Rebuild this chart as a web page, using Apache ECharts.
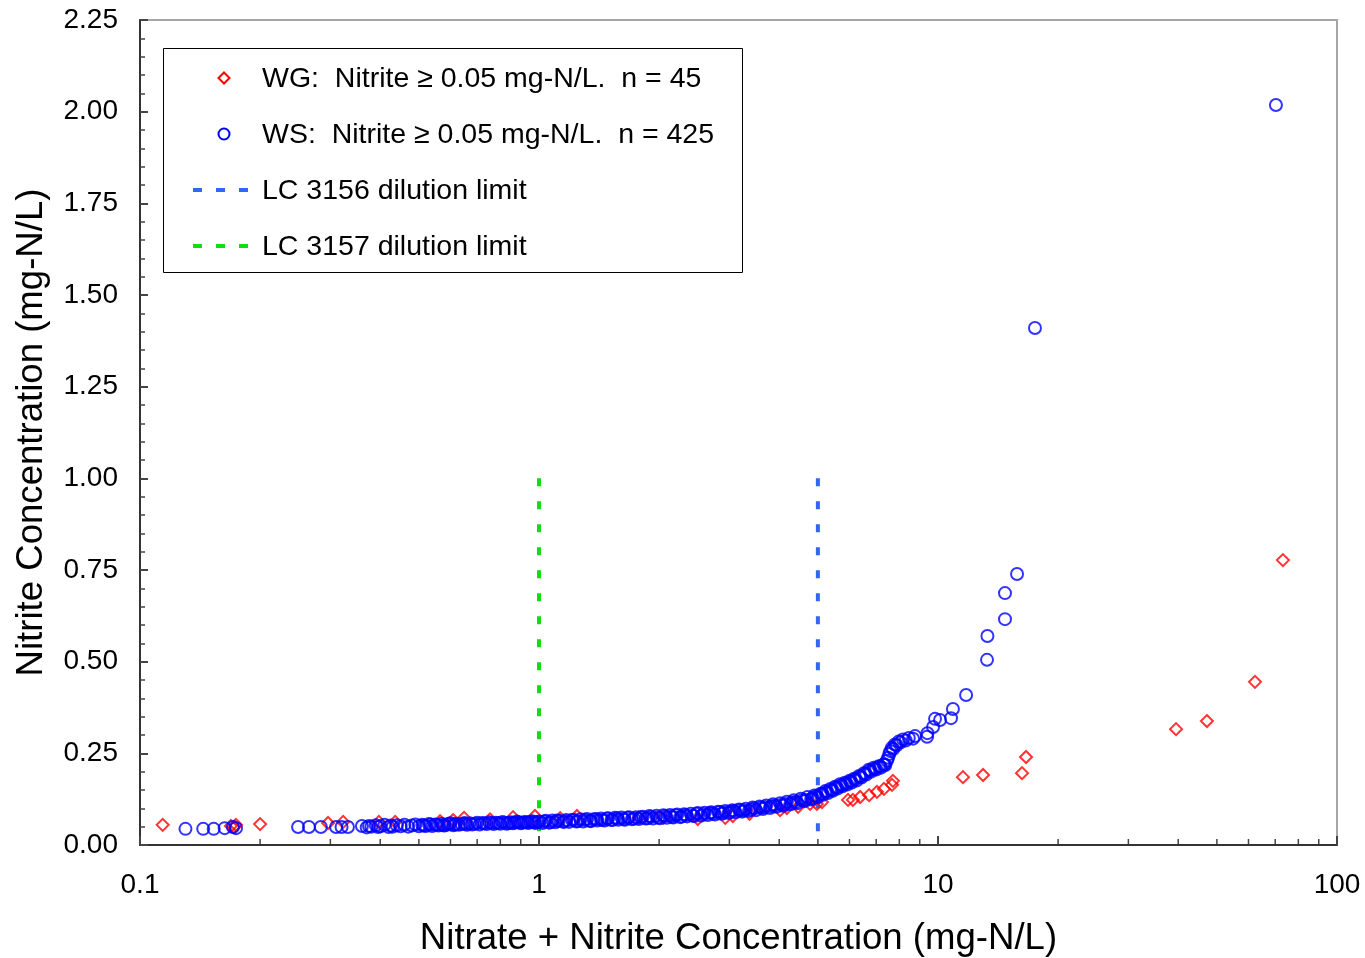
<!DOCTYPE html>
<html>
<head>
<meta charset="utf-8">
<script src="https://cdn.jsdelivr.net/npm/echarts@6/dist/echarts.min.js"></script>
<style>html,body{margin:0;padding:0;background:#fff;}#chart{width:1365px;height:958px;}</style>
</head>
<body>
<div id="chart"></div>
<script>
// ---- data ----
const wgName = 'WG:  Nitrite \u2265 0.05 mg-N/L.  n = 45';
const wsName = 'WS:  Nitrite \u2265 0.05 mg-N/L.  n = 425';
const lc3156Name = 'LC 3156 dilution limit';
const lc3157Name = 'LC 3157 dilution limit';

const wgX = [0.114,0.169,0.172,0.174,0.200,0.296,0.323,0.397,0.436,0.565,0.609,0.649,0.754,0.861,0.977,1.13,1.245,1.78,2.05,2.50,2.93,3.06,3.37,4.02,4.18,4.46,4.78,4.97,5.12,5.95,6.12,6.38,6.72,7.03,7.32,7.67,7.71,11.55,12.97,16.24,16.62,39.5,47.2,62.3,73.2];
const wgY = [0.055,0.052,0.049,0.055,0.057,0.060,0.063,0.063,0.063,0.065,0.068,0.074,0.070,0.076,0.079,0.073,0.079,0.075,0.074,0.071,0.074,0.079,0.085,0.095,0.101,0.104,0.112,0.112,0.117,0.123,0.123,0.131,0.136,0.145,0.153,0.164,0.175,0.185,0.191,0.196,0.240,0.316,0.338,0.445,0.777];

const wsLow = [[0.130,0.044],[0.144,0.044],[0.153,0.044],[0.163,0.046],[0.171,0.049],[0.174,0.046],[0.249,0.049],[0.265,0.049],[0.284,0.049],[0.310,0.049],[0.320,0.049],[0.332,0.049],[0.360,0.052]];
const wsMid1 = [[0.37,0.048],[0.375,0.052],[0.38,0.050],[0.39,0.054],[0.395,0.049],[0.40,0.051],[0.41,0.055],[0.42,0.049],[0.425,0.053],[0.43,0.050],[0.44,0.054],[0.45,0.051],[0.46,0.055],[0.47,0.050],[0.48,0.053],[0.49,0.056],[0.50,0.051],[0.51,0.055],[0.52,0.052],[0.53,0.057],[0.54,0.052],[0.55,0.056],[0.56,0.053],[0.57,0.058],[0.58,0.053],[0.59,0.056],[0.60,0.059],[0.61,0.054],[0.62,0.058],[0.63,0.055],[0.65,0.060],[0.66,0.055],[0.67,0.059],[0.68,0.056],[0.70,0.061],[0.71,0.056],[0.72,0.060],[0.74,0.057],[0.75,0.062],[0.77,0.057],[0.78,0.061],[0.80,0.058],[0.81,0.063],[0.83,0.058],[0.85,0.062],[0.86,0.059],[0.88,0.064],[0.90,0.059],[0.92,0.063],[0.94,0.060],[0.96,0.065],[0.98,0.060],[1.00,0.064]];
const wsMid1b = [[0.515,0.053],[0.535,0.056],[0.555,0.055],[0.575,0.054],[0.595,0.058],[0.615,0.056],[0.64,0.057],[0.655,0.058],[0.69,0.058],[0.73,0.059],[0.76,0.060],[0.79,0.060],[0.82,0.061],[0.84,0.060],[0.87,0.061],[0.89,0.062],[0.91,0.061],[0.93,0.062],[0.95,0.063],[0.97,0.062],[0.99,0.063]];
const wsMid2 = [[1.02,0.060],[1.04,0.066],[1.06,0.061],[1.08,0.067],[1.10,0.062],[1.12,0.066],[1.15,0.063],[1.17,0.068],[1.19,0.063],[1.22,0.069],[1.24,0.064],[1.27,0.070],[1.29,0.064],[1.32,0.071],[1.35,0.065],[1.37,0.070],[1.40,0.067],[1.43,0.072],[1.46,0.067],[1.49,0.073],[1.52,0.068],[1.55,0.074],[1.58,0.069],[1.61,0.075],[1.64,0.069],[1.68,0.076],[1.71,0.070],[1.75,0.076],[1.78,0.071],[1.82,0.077],[1.85,0.072],[1.89,0.079],[1.93,0.072],[1.97,0.080],[2.01,0.073],[2.05,0.081],[2.09,0.074],[2.13,0.082],[2.17,0.075],[2.22,0.083],[2.26,0.076],[2.31,0.084],[2.35,0.078],[2.40,0.085],[2.45,0.079],[2.50,0.087],[2.55,0.080],[2.60,0.088],[2.65,0.082],[2.70,0.089],[2.76,0.083],[2.81,0.091],[2.87,0.085],[2.93,0.093],[2.99,0.087],[3.05,0.095],[3.11,0.089],[3.17,0.097],[3.23,0.091],[3.30,0.099],[3.36,0.093],[3.43,0.102],[3.50,0.095],[3.57,0.105],[3.64,0.098],[3.71,0.108],[3.79,0.101],[3.86,0.111],[3.94,0.104],[4.02,0.114],[4.10,0.107],[4.18,0.118],[4.27,0.111],[4.35,0.122],[4.44,0.114],[4.53,0.126],[4.62,0.119],[4.71,0.131],[4.81,0.124],[4.90,0.135],[5.00,0.130]];
const wsMid2b = [[1.03,0.064],[1.07,0.062],[1.11,0.067],[1.16,0.064],[1.21,0.068],[1.25,0.065],[1.30,0.069],[1.34,0.066],[1.39,0.071],[1.44,0.068],[1.48,0.072],[1.53,0.069],[1.57,0.073],[1.63,0.071],[1.67,0.074],[1.73,0.072],[1.80,0.076],[1.87,0.073],[1.91,0.077],[1.99,0.075],[2.07,0.079],[2.15,0.077],[2.20,0.081],[2.28,0.078],[2.33,0.082],[2.43,0.080],[2.48,0.085],[2.58,0.084],[2.68,0.087],[2.73,0.086],[2.84,0.090],[2.90,0.088],[3.02,0.091],[3.08,0.093],[3.20,0.095],[3.27,0.094],[3.40,0.097],[3.47,0.100],[3.60,0.102],[3.68,0.103],[3.82,0.106],[3.90,0.107],[4.06,0.110],[4.14,0.112],[4.31,0.116],[4.40,0.117],[4.57,0.122],[4.66,0.123],[4.85,0.128],[4.95,0.133],[5.12,0.140],[5.26,0.145],[5.41,0.150],[5.56,0.157],[5.72,0.163],[5.88,0.168],[6.04,0.173],[6.20,0.179],[6.38,0.186],[6.56,0.194],[6.75,0.203],[6.95,0.208],[7.15,0.214],[7.34,0.219]];
const wsMid3 = [[5.08,0.140],[5.15,0.137],[5.22,0.147],[5.30,0.142],[5.37,0.153],[5.45,0.148],[5.52,0.159],[5.60,0.154],[5.68,0.166],[5.76,0.160],[5.84,0.170],[5.92,0.165],[6.00,0.175],[6.08,0.170],[6.16,0.181],[6.25,0.176],[6.34,0.188],[6.43,0.184],[6.52,0.196],[6.61,0.192],[6.70,0.205],[6.80,0.200],[6.90,0.211],[7.00,0.206],[7.10,0.215],[7.20,0.211],[7.30,0.220],[7.38,0.218],[7.45,0.230],[7.50,0.238],[7.55,0.248],[7.60,0.256],[7.66,0.265],[7.72,0.262],[7.80,0.274],[7.88,0.272],[7.97,0.282],[8.06,0.280],[8.17,0.288],[8.30,0.285],[8.45,0.292],[8.66,0.290],[8.76,0.297]];
const wsHigh = [[9.39,0.295],[9.41,0.305],[9.72,0.322],[9.83,0.344],[10.12,0.341],[10.78,0.346],[10.90,0.371],[11.76,0.409],[13.27,0.505],[13.30,0.570],[14.72,0.616],[14.72,0.687],[15.78,0.739],[17.5,1.410],[70.3,2.018]];

const lc3156X = 5;   // mg-N/L
const lc3157X = 1;   // mg-N/L
const limitYRange = [1.0, 0];

const xMinorTicks = [0.2,0.3,0.4,0.5,0.6,0.7,0.8,0.9,2,3,4,5,6,7,8,9,20,30,40,50,60,70,80,90];
const xTickLabels = {0.1:'0.1', 1:'1', 10:'10', 100:'100'};

// ---- colours ----
const WG_COLOR = '#ff0000', WS_COLOR = '#0000ff', LC3156_COLOR = '#3366f5', LC3157_COLOR = '#11dd11';

// ---- chart ----
const FONT = 'Liberation Sans, Arial, sans-serif';
const chart = echarts.init(document.getElementById('chart'), null, {renderer:'canvas'});
const wgData = wgX.map((x,i)=>[x, wgY[i]]);
const wsData = [].concat(wsLow, wsMid1, wsMid1b, wsMid2, wsMid2b, wsMid3, wsHigh);

// legend (drawn as graphic elements for exact placement)
const legendTextStyle = {font:'28.5px ' + FONT, fill:'#000', textVerticalAlign:'middle', verticalAlign:'middle'};
const legendRows = [78, 134, 190, 246];
const textDy = 1;
const legendGraphic = [
  {type:'rect', left:163, top:48, z:50, shape:{width:579, height:224}, style:{fill:'#fff', stroke:'#000', lineWidth:1}},
  {type:'polygon', z:51, shape:{points:[[224,legendRows[0]-5.5],[229.5,legendRows[0]],[224,legendRows[0]+5.5],[218.5,legendRows[0]]]}, style:{fill:'none', stroke:WG_COLOR, lineWidth:2}},
  {type:'circle', z:51, shape:{cx:224, cy:legendRows[1], r:5.5}, style:{fill:'none', stroke:WS_COLOR, lineWidth:2}},
  {type:'line', z:51, shape:{x1:193, y1:legendRows[2], x2:250, y2:legendRows[2]}, style:{stroke:LC3156_COLOR, lineWidth:4, lineDash:[9,14]}},
  {type:'line', z:51, shape:{x1:193, y1:legendRows[3], x2:250, y2:legendRows[3]}, style:{stroke:LC3157_COLOR, lineWidth:4, lineDash:[9,14]}},
  {type:'text', z:51, x:262, y:legendRows[0]+textDy, style:Object.assign({text:wgName}, legendTextStyle)},
  {type:'text', z:51, x:262, y:legendRows[1]+textDy, style:Object.assign({text:wsName}, legendTextStyle)},
  {type:'text', z:51, x:262, y:legendRows[2]+textDy, style:Object.assign({text:lc3156Name}, legendTextStyle)},
  {type:'text', z:51, x:262, y:legendRows[3]+textDy, style:Object.assign({text:lc3157Name}, legendTextStyle)}
];

chart.setOption({
  backgroundColor: '#ffffff',
  animation: false,
  grid: {left:140, right:28, top:20, bottom:113, containLabel:false, outerBoundsMode:'none', show:true, borderColor:'#a6a6a6', borderWidth:2, backgroundColor:'transparent'},
  xAxis: {
    type:'log', logBase:10, min:0.1, max:100,
    name:'Nitrate + Nitrite Concentration (mg-N/L)', nameLocation:'middle', nameGap:75,
    nameTextStyle:{fontFamily:FONT, fontSize:36.6, color:'#000'},
    axisLine:{show:true, onZero:false, lineStyle:{color:'#333', width:2}},
    axisTick:{show:true, inside:true, length:9, lineStyle:{color:'#444', width:2}},
    minorTick:{show:false},
    axisLabel:{fontFamily:FONT, fontSize:28, color:'#000', margin:26, formatter:v => xTickLabels[v] !== undefined ? xTickLabels[v] : String(v)},
    splitLine:{show:false}
  },
  yAxis: {
    type:'value', min:0, max:2.25, interval:0.25,
    name:'Nitrite Concentration (mg-N/L)', nameLocation:'middle', nameGap:90,
    nameTextStyle:{fontFamily:FONT, fontSize:36.6, color:'#000'},
    axisLine:{show:true, onZero:false, lineStyle:{color:'#333', width:2}},
    axisTick:{show:true, inside:true, length:8, lineStyle:{color:'#444', width:2}},
    minorTick:{show:true, splitNumber:5, length:5, lineStyle:{color:'#444', width:1.5}},
    axisLabel:{fontFamily:FONT, fontSize:28, color:'#000', margin:22, formatter:v => v.toFixed(2)},
    splitLine:{show:false}
  },
  graphic: legendGraphic,
  series: [
    {
      name:lc3156Name, type:'line', data:limitYRange.map(y=>[lc3156X, y]), showSymbol:false, symbol:'none',
      itemStyle:{color:LC3156_COLOR},
      lineStyle:{color:LC3156_COLOR, width:4, type:[8,15]}, z:1, silent:true
    },
    {
      name:lc3157Name, type:'line', data:limitYRange.map(y=>[lc3157X, y]), showSymbol:false, symbol:'none',
      itemStyle:{color:LC3157_COLOR},
      lineStyle:{color:LC3157_COLOR, width:4, type:[8,15]}, z:1, silent:true
    },
    {
      name:wgName, type:'scatter', data:wgData, symbol:'diamond', symbolSize:12,
      itemStyle:{color:'rgba(0,0,0,0)', borderColor:WG_COLOR, borderWidth:2}, z:2
    },
    {
      name:wsName, type:'scatter', data:wsData, symbol:'circle', symbolSize:12,
      itemStyle:{color:'rgba(0,0,0,0)', borderColor:WS_COLOR, borderWidth:2}, z:3
    },
    {
      name:'xMinorTicks', type:'custom', data:xMinorTicks.map(v=>[v,0]), silent:true, clip:false, z:4,
      renderItem:(params, api) => {
        const p = api.coord([api.value(0), 0]);
        return {type:'line', shape:{x1:p[0], y1:p[1]-1, x2:p[0], y2:p[1]-6}, style:{stroke:'#444', lineWidth:1.5}};
      }
    }
  ]
});
</script>
</body>
</html>
